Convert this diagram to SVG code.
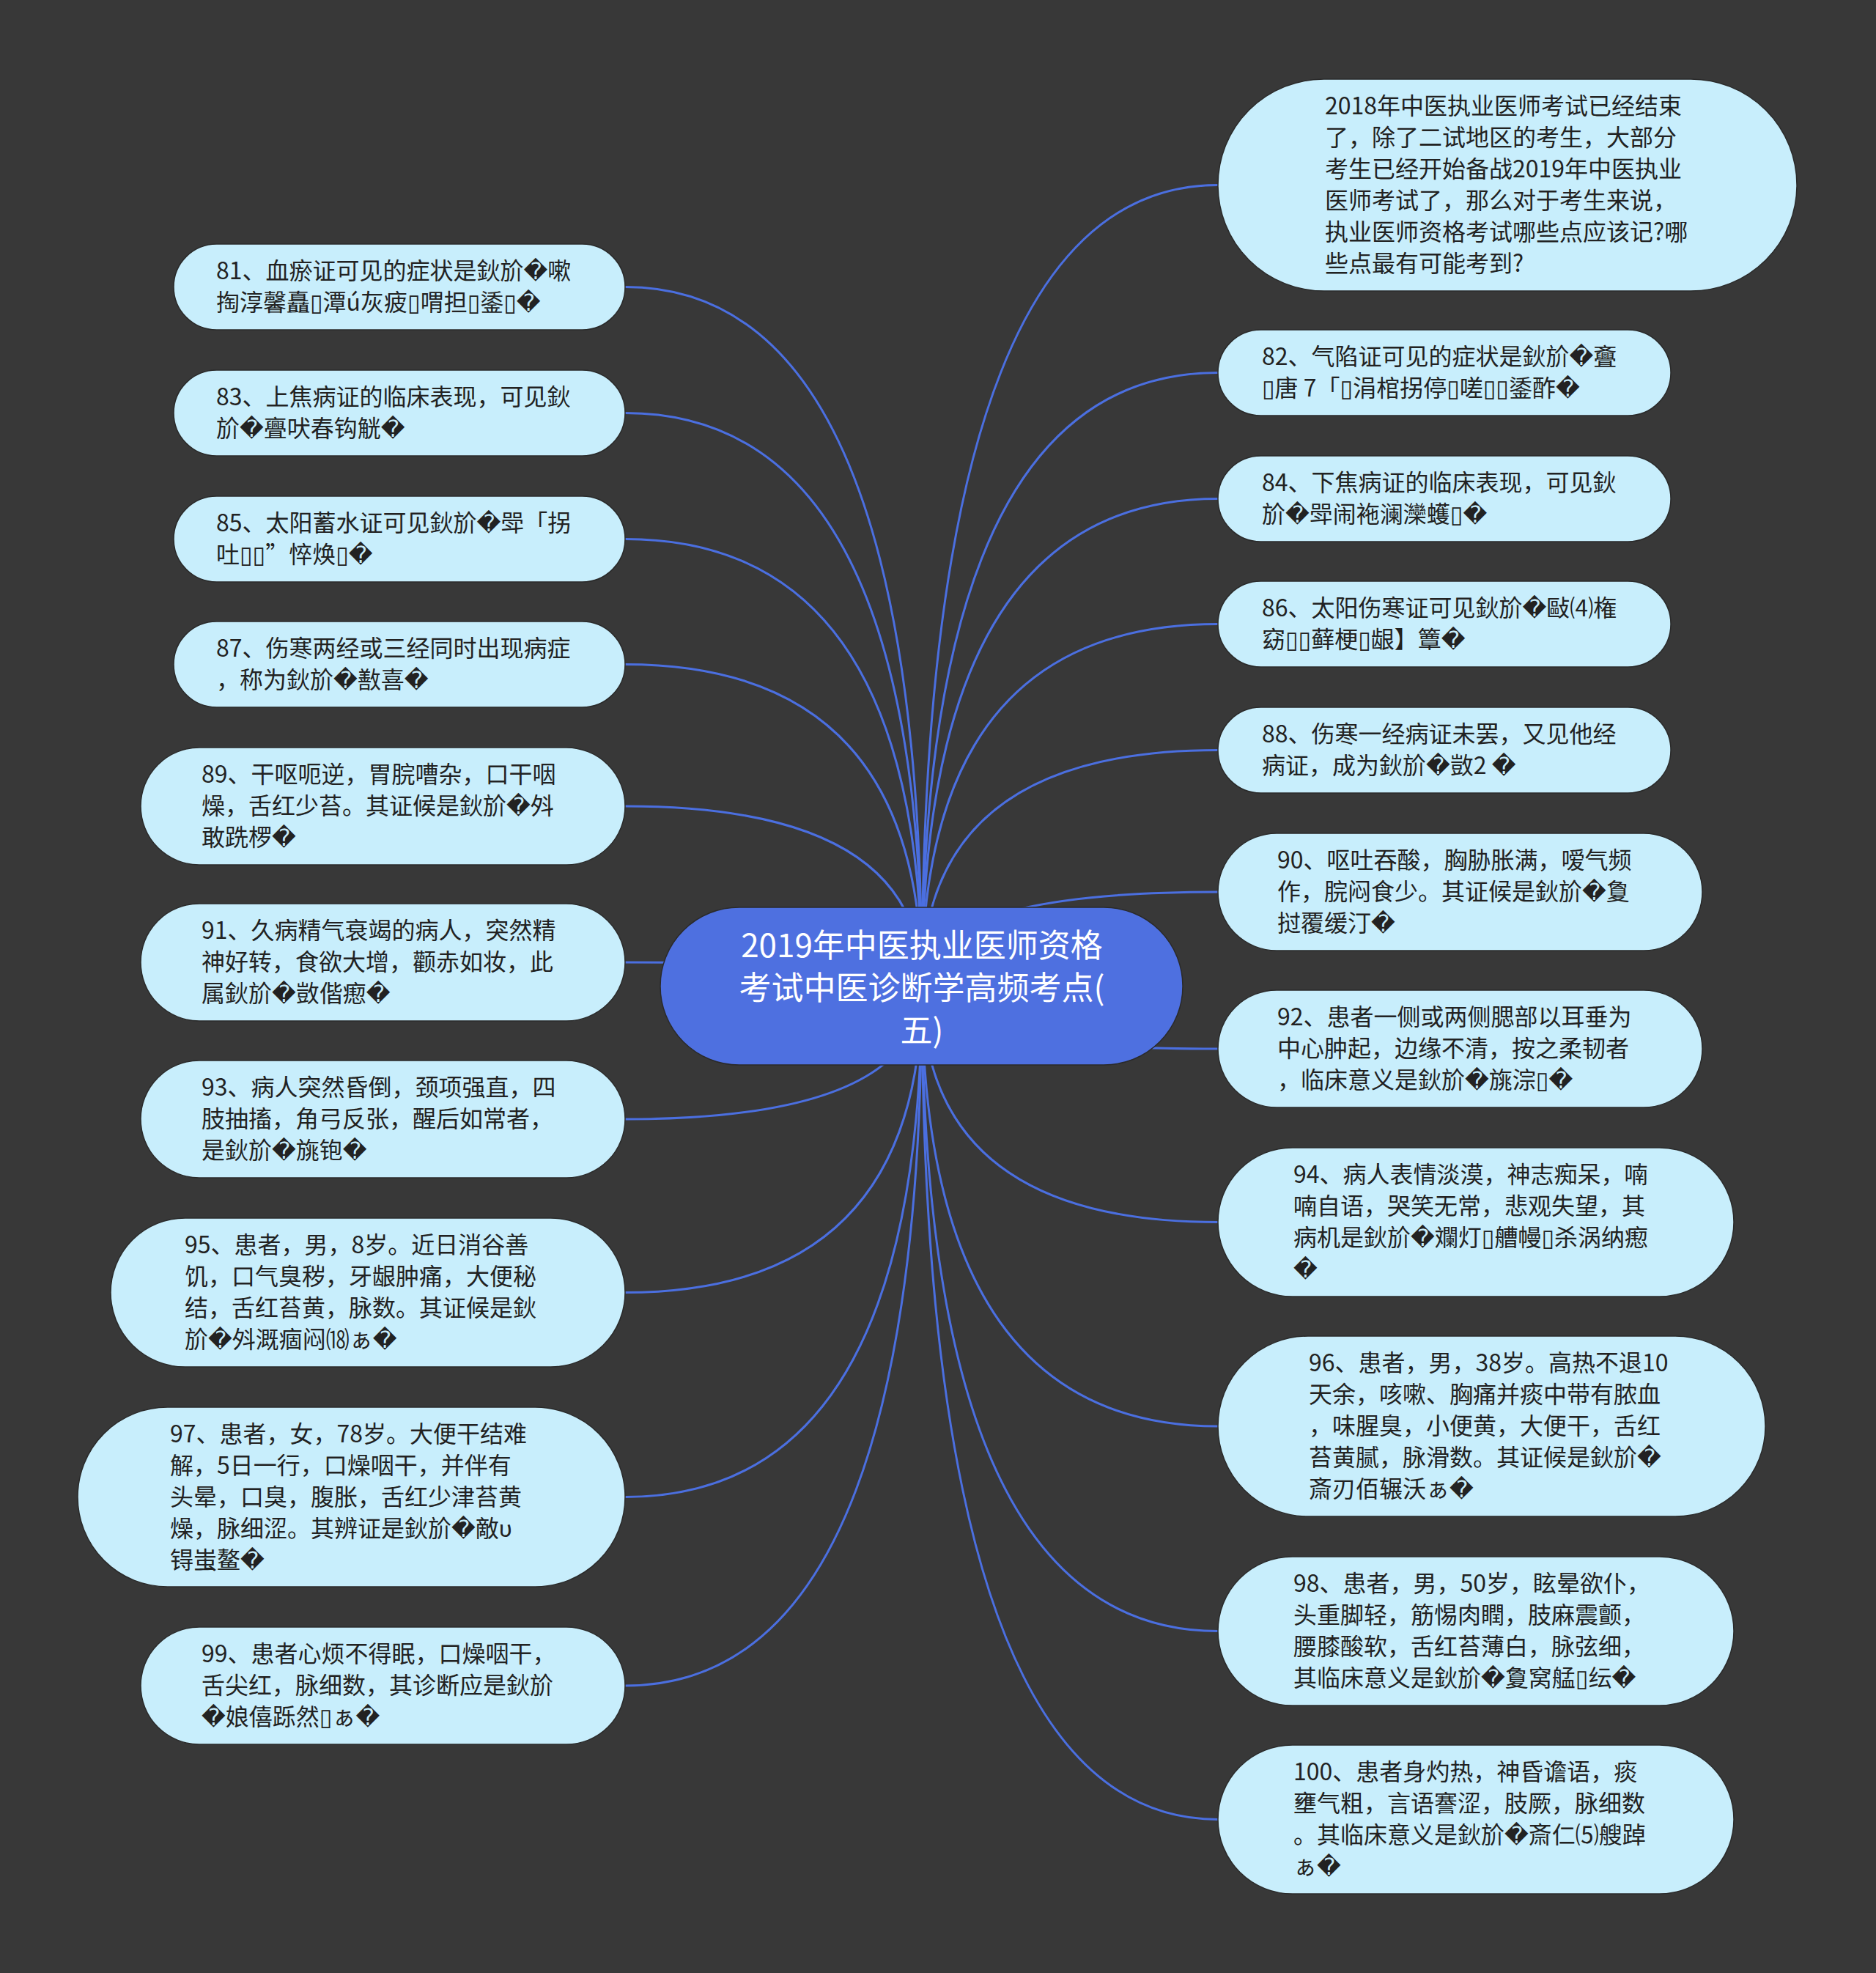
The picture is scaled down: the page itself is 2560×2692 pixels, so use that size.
<svg xmlns="http://www.w3.org/2000/svg" width="2560" height="2692" viewBox="0 0 2560 2692">
<style>
.link{fill:none;stroke:#4b6fe0;stroke-width:3}
.node rect{fill:#c8eefc;stroke:#2a2a2a;stroke-width:1.5}
.node text{font-family:"Noto Sans CJK SC","DejaVu Sans",sans-serif;font-size:32px;fill:#222}
.center rect{fill:#4e70e0;stroke:#2a2a2a;stroke-width:1.5}
.center text{font-family:"Noto Sans CJK SC","DejaVu Sans",sans-serif;font-size:44px;fill:#fff;text-anchor:middle}
</style>
<rect x="0" y="0" width="2560" height="2692" fill="#383838"/>
<g id="connectors">
<path class="link" d="M1258 1345 Q1258 391.5 853 391.5"/>
<path class="link" d="M1258 1345 Q1258 563.5 853 563.5"/>
<path class="link" d="M1258 1345 Q1258 735.5 853 735.5"/>
<path class="link" d="M1258 1345 Q1258 906.5 853 906.5"/>
<path class="link" d="M1258 1345 Q1258 1100 853 1100"/>
<path class="link" d="M1258 1345 Q1258 1313 853 1313"/>
<path class="link" d="M1258 1345 Q1258 1527 853 1527"/>
<path class="link" d="M1258 1345 Q1258 1763.5 853 1763.5"/>
<path class="link" d="M1258 1345 Q1258 2042.5 853 2042.5"/>
<path class="link" d="M1258 1345 Q1258 2300 853 2300"/>
<path class="link" d="M1258 1345 Q1258 252.5 1662 252.5"/>
<path class="link" d="M1258 1345 Q1258 508.5 1662 508.5"/>
<path class="link" d="M1258 1345 Q1258 680.5 1662 680.5"/>
<path class="link" d="M1258 1345 Q1258 851.5 1662 851.5"/>
<path class="link" d="M1258 1345 Q1258 1023.5 1662 1023.5"/>
<path class="link" d="M1258 1345 Q1258 1217 1662 1217"/>
<path class="link" d="M1258 1345 Q1258 1431 1662 1431"/>
<path class="link" d="M1258 1345 Q1258 1667.5 1662 1667.5"/>
<path class="link" d="M1258 1345 Q1258 1946 1662 1946"/>
<path class="link" d="M1258 1345 Q1258 2225.5 1662 2225.5"/>
<path class="link" d="M1258 1345 Q1258 2482.5 1662 2482.5"/>
</g>
<g id="center" class="center">
<rect x="901" y="1238" width="713" height="215" rx="107.5"/>
<text><tspan x="1258" y="1306">2019年中医执业医师资格</tspan><tspan x="1258" y="1364">考试中医诊断学高频考点(</tspan><tspan x="1258" y="1422">五)</tspan></text>
</g>
<g id="n81" class="node">
<rect x="237" y="333" width="616" height="117" rx="58.5"/>
<text><tspan x="295" y="381">81、血瘀证可见的症状是鈥斺�嗽</tspan><tspan x="295" y="424">掏淳馨矗▯潭ú灰疲▯喟担▯鋈▯�</tspan></text>
</g>
<g id="n83" class="node">
<rect x="237" y="505" width="616" height="117" rx="58.5"/>
<text><tspan x="295" y="553">83、上焦病证的临床表现，可见鈥</tspan><tspan x="295" y="596">斺�亹吠春钩觥�</tspan></text>
</g>
<g id="n85" class="node">
<rect x="237" y="677" width="616" height="117" rx="58.5"/>
<text><tspan x="295" y="725">85、太阳蓄水证可见鈥斺�斝「拐</tspan><tspan x="295" y="768">吐▯▯”悴焕▯�</tspan></text>
</g>
<g id="n87" class="node">
<rect x="237" y="848" width="616" height="117" rx="58.5"/>
<text><tspan x="295" y="896">87、伤寒两经或三经同时出现病症</tspan><tspan x="295" y="939">，称为鈥斺�敾喜�</tspan></text>
</g>
<g id="n89" class="node">
<rect x="192" y="1020" width="661" height="160" rx="80"/>
<text><tspan x="275" y="1068">89、干呕呃逆，胃脘嘈杂，口干咽</tspan><tspan x="275" y="1111">燥，舌红少苔。其证候是鈥斺�斘</tspan><tspan x="275" y="1154">敢跣椤�</tspan></text>
</g>
<g id="n91" class="node">
<rect x="192" y="1233" width="661" height="160" rx="80"/>
<text><tspan x="275" y="1281">91、久病精气衰竭的病人，突然精</tspan><tspan x="275" y="1324">神好转，食欲大增，颧赤如妆，此</tspan><tspan x="275" y="1367">属鈥斺�敳偕瘛�</tspan></text>
</g>
<g id="n93" class="node">
<rect x="192" y="1447" width="661" height="160" rx="80"/>
<text><tspan x="275" y="1495">93、病人突然昏倒，颈项强直，四</tspan><tspan x="275" y="1538">肢抽搐，角弓反张，醒后如常者，</tspan><tspan x="275" y="1581">是鈥斺�旐铇�</tspan></text>
</g>
<g id="n95" class="node">
<rect x="151" y="1662" width="702" height="203" rx="101.5"/>
<text><tspan x="252" y="1710">95、患者，男，8岁。近日消谷善</tspan><tspan x="252" y="1753">饥，口气臭秽，牙龈肿痛，大便秘</tspan><tspan x="252" y="1796">结，舌红苔黄，脉数。其证候是鈥</tspan><tspan x="252" y="1839">斺�斘溉痼闷⒅ぁ�</tspan></text>
</g>
<g id="n97" class="node">
<rect x="106" y="1920" width="747" height="245" rx="122.5"/>
<text><tspan x="232" y="1968">97、患者，女，78岁。大便干结难</tspan><tspan x="232" y="2011">解，5日一行，口燥咽干，并伴有</tspan><tspan x="232" y="2054">头晕，口臭，腹胀，舌红少津苔黄</tspan><tspan x="232" y="2097">燥，脉细涩。其辨证是鈥斺�敵υ</tspan><tspan x="232" y="2140">锝蚩鳌�</tspan></text>
</g>
<g id="n99" class="node">
<rect x="192" y="2220" width="661" height="160" rx="80"/>
<text><tspan x="275" y="2268">99、患者心烦不得眠，口燥咽干，</tspan><tspan x="275" y="2311">舌尖红，脉细数，其诊断应是鈥斺</tspan><tspan x="275" y="2354">�娘僖跞然▯ぁ�</tspan></text>
</g>
<g id="intro" class="node">
<rect x="1662" y="108" width="790" height="289" rx="144.5"/>
<text><tspan x="1808" y="156">2018年中医执业医师考试已经结束</tspan><tspan x="1808" y="199">了，除了二试地区的考生，大部分</tspan><tspan x="1808" y="242">考生已经开始备战2019年中医执业</tspan><tspan x="1808" y="285">医师考试了，那么对于考生来说，</tspan><tspan x="1808" y="328">执业医师资格考试哪些点应该记?哪</tspan><tspan x="1808" y="371">些点最有可能考到?</tspan></text>
</g>
<g id="n82" class="node">
<rect x="1662" y="450" width="618" height="117" rx="58.5"/>
<text xml:space="preserve"><tspan x="1722" y="498">82、气陷证可见的症状是鈥斺�斖</tspan><tspan x="1722" y="541">▯唐 7「▯涓棺拐停▯嗟▯▯鋈酢�</tspan></text>
</g>
<g id="n84" class="node">
<rect x="1662" y="622" width="618" height="117" rx="58.5"/>
<text><tspan x="1722" y="670">84、下焦病证的临床表现，可见鈥</tspan><tspan x="1722" y="713">斺�斝闹袘澜灤蠖▯�</tspan></text>
</g>
<g id="n86" class="node">
<rect x="1662" y="793" width="618" height="117" rx="58.5"/>
<text><tspan x="1722" y="841">86、太阳伤寒证可见鈥斺�敺⑷権</tspan><tspan x="1722" y="884">窈▯▯藓梗▯龈】簟�</tspan></text>
</g>
<g id="n88" class="node">
<rect x="1662" y="965" width="618" height="117" rx="58.5"/>
<text xml:space="preserve"><tspan x="1722" y="1013">88、伤寒一经病证未罢，又见他经</tspan><tspan x="1722" y="1056">病证，成为鈥斺�敳2 �</tspan></text>
</g>
<g id="n90" class="node">
<rect x="1662" y="1137" width="661" height="160" rx="80"/>
<text><tspan x="1743" y="1185">90、呕吐吞酸，胸胁胀满，嗳气频</tspan><tspan x="1743" y="1228">作，脘闷食少。其证候是鈥斺�夐</tspan><tspan x="1743" y="1271">挝覆缓汀�</tspan></text>
</g>
<g id="n92" class="node">
<rect x="1662" y="1351" width="661" height="160" rx="80"/>
<text><tspan x="1743" y="1399">92、患者一侧或两侧腮部以耳垂为</tspan><tspan x="1743" y="1442">中心肿起，边缘不清，按之柔韧者</tspan><tspan x="1743" y="1485">，临床意义是鈥斺�旐淙▯�</tspan></text>
</g>
<g id="n94" class="node">
<rect x="1662" y="1566" width="704" height="203" rx="101.5"/>
<text><tspan x="1765" y="1614">94、病人表情淡漠，神志痴呆，喃</tspan><tspan x="1765" y="1657">喃自语，哭笑无常，悲观失望，其</tspan><tspan x="1765" y="1700">病机是鈥斺�斕灯▯艚幔▯杀涡纳瘛</tspan><tspan x="1765" y="1743">�</tspan></text>
</g>
<g id="n96" class="node">
<rect x="1662" y="1823" width="747" height="246" rx="123"/>
<text><tspan x="1786" y="1871">96、患者，男，38岁。高热不退10</tspan><tspan x="1786" y="1914">天余，咳嗽、胸痛并痰中带有脓血</tspan><tspan x="1786" y="1957">，味腥臭，小便黄，大便干，舌红</tspan><tspan x="1786" y="2000">苔黄腻，脉滑数。其证候是鈥斺�</tspan><tspan x="1786" y="2043">斎刃佰辗沃ぁ�</tspan></text>
</g>
<g id="n98" class="node">
<rect x="1662" y="2124" width="704" height="203" rx="101.5"/>
<text><tspan x="1765" y="2172">98、患者，男，50岁，眩晕欲仆，</tspan><tspan x="1765" y="2215">头重脚轻，筋惕肉瞤，肢麻震颤，</tspan><tspan x="1765" y="2258">腰膝酸软，舌红苔薄白，脉弦细，</tspan><tspan x="1765" y="2301">其临床意义是鈥斺�夐窝艋▯纭�</tspan></text>
</g>
<g id="n100" class="node">
<rect x="1662" y="2381" width="704" height="203" rx="101.5"/>
<text><tspan x="1765" y="2429">100、患者身灼热，神昏谵语，痰</tspan><tspan x="1765" y="2472">壅气粗，言语謇涩，肢厥，脉细数</tspan><tspan x="1765" y="2515">。其临床意义是鈥斺�斎仁⑸艘踔</tspan><tspan x="1765" y="2558">ぁ�</tspan></text>
</g>
</svg>
